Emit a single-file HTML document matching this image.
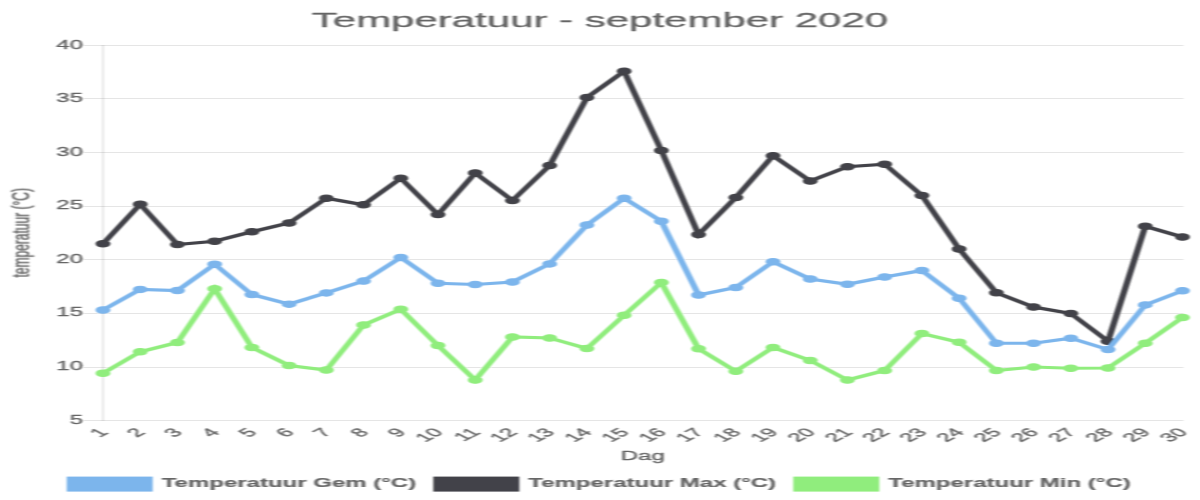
<!DOCTYPE html>
<html lang="nl"><head><meta charset="utf-8"><title>Temperatuur - september 2020</title>
<style>
html,body{margin:0;padding:0;background:#fff;}
body{width:1200px;height:500px;overflow:hidden;}
svg{display:block;font-family:"Liberation Sans",Arial,Helvetica,sans-serif;}
</style></head><body>
<svg width="1200" height="500" viewBox="0 0 600 500" preserveAspectRatio="none">
<rect x="0" y="0" width="600" height="500" fill="#fff"/>
<defs><filter id="soft" x="0" y="0" width="600" height="500" filterUnits="userSpaceOnUse"><feGaussianBlur stdDeviation="0.5 0.4"/></filter></defs>
<g id="chart" filter="url(#soft)" stroke-linejoin="round">
<g stroke="#000" stroke-opacity="0.1" stroke-width="1" fill="none">
<line x1="41.50" y1="45.50" x2="591.75" y2="45.50"/>
<line x1="41.50" y1="98.50" x2="591.75" y2="98.50"/>
<line x1="41.50" y1="152.50" x2="591.75" y2="152.50"/>
<line x1="41.50" y1="206.50" x2="591.75" y2="206.50"/>
<line x1="41.50" y1="259.50" x2="591.75" y2="259.50"/>
<line x1="41.50" y1="313.50" x2="591.75" y2="313.50"/>
<line x1="41.50" y1="367.50" x2="591.75" y2="367.50"/>
<line x1="41.50" y1="420.50" x2="591.75" y2="420.50"/>
<line x1="51.50" y1="45" x2="51.50" y2="421"/>
</g>
<text x="300" y="27.5" text-anchor="middle" font-size="21" fill="#666" stroke="#666" stroke-width="0.3">Temperatuur - september 2020</text>
<g font-size="12" fill="#666" stroke="#666" stroke-width="0.3" text-anchor="end">
<text x="41.5" y="48.70">40</text>
<text x="41.5" y="102.25">35</text>
<text x="41.5" y="155.80">30</text>
<text x="41.5" y="209.35">25</text>
<text x="41.5" y="262.90">20</text>
<text x="41.5" y="316.45">15</text>
<text x="41.5" y="370.00">10</text>
<text x="41.5" y="423.55">5</text>
</g>
<text font-size="12" fill="#666" stroke="#666" stroke-width="0.3" text-anchor="middle" transform="translate(10,232.70) rotate(-90)" y="4.3">temperatuur (°C)</text>
<g font-size="12" fill="#666" stroke="#666" stroke-width="0.3" text-anchor="end">
<text transform="translate(51.50,430) rotate(-45)" y="4.3">1</text>
<text transform="translate(70.11,430) rotate(-45)" y="4.3">2</text>
<text transform="translate(88.72,430) rotate(-45)" y="4.3">3</text>
<text transform="translate(107.34,430) rotate(-45)" y="4.3">4</text>
<text transform="translate(125.95,430) rotate(-45)" y="4.3">5</text>
<text transform="translate(144.56,430) rotate(-45)" y="4.3">6</text>
<text transform="translate(163.17,430) rotate(-45)" y="4.3">7</text>
<text transform="translate(181.78,430) rotate(-45)" y="4.3">8</text>
<text transform="translate(200.40,430) rotate(-45)" y="4.3">9</text>
<text transform="translate(219.01,430) rotate(-45)" y="4.3">10</text>
<text transform="translate(237.62,430) rotate(-45)" y="4.3">11</text>
<text transform="translate(256.23,430) rotate(-45)" y="4.3">12</text>
<text transform="translate(274.84,430) rotate(-45)" y="4.3">13</text>
<text transform="translate(293.46,430) rotate(-45)" y="4.3">14</text>
<text transform="translate(312.07,430) rotate(-45)" y="4.3">15</text>
<text transform="translate(330.68,430) rotate(-45)" y="4.3">16</text>
<text transform="translate(349.29,430) rotate(-45)" y="4.3">17</text>
<text transform="translate(367.91,430) rotate(-45)" y="4.3">18</text>
<text transform="translate(386.52,430) rotate(-45)" y="4.3">19</text>
<text transform="translate(405.13,430) rotate(-45)" y="4.3">20</text>
<text transform="translate(423.74,430) rotate(-45)" y="4.3">21</text>
<text transform="translate(442.35,430) rotate(-45)" y="4.3">22</text>
<text transform="translate(460.97,430) rotate(-45)" y="4.3">23</text>
<text transform="translate(479.58,430) rotate(-45)" y="4.3">24</text>
<text transform="translate(498.19,430) rotate(-45)" y="4.3">25</text>
<text transform="translate(516.80,430) rotate(-45)" y="4.3">26</text>
<text transform="translate(535.41,430) rotate(-45)" y="4.3">27</text>
<text transform="translate(554.03,430) rotate(-45)" y="4.3">28</text>
<text transform="translate(572.64,430) rotate(-45)" y="4.3">29</text>
<text transform="translate(591.25,430) rotate(-45)" y="4.3">30</text>
</g>
<text x="321.38" y="460.2" font-size="12" fill="#666" stroke="#666" stroke-width="0.3" text-anchor="middle">Dag</text>
<g fill="#90ed7d" stroke="#90ed7d"><polyline points="51.50,373.25 70.11,351.75 88.72,342.50 107.34,288.75 125.95,347.50 144.56,365.50 163.17,370.00 181.78,325.00 200.40,309.25 219.01,345.50 237.62,380.00 256.23,337.00 274.84,338.00 293.46,348.50 312.07,315.25 330.68,282.50 349.29,348.75 367.91,371.25 386.52,347.50 405.13,360.50 423.74,380.00 442.35,370.50 460.97,333.50 479.58,342.25 498.19,370.50 516.80,367.00 535.41,368.25 554.03,368.00 572.64,343.25 591.25,317.50" fill="none" stroke-width="3.2" stroke-linejoin="miter" stroke-linecap="butt"/><g stroke-width="1"><circle cx="51.50" cy="373.25" r="3.25"/><circle cx="70.11" cy="351.75" r="3.25"/><circle cx="88.72" cy="342.50" r="3.25"/><circle cx="107.34" cy="288.75" r="3.25"/><circle cx="125.95" cy="347.50" r="3.25"/><circle cx="144.56" cy="365.50" r="3.25"/><circle cx="163.17" cy="370.00" r="3.25"/><circle cx="181.78" cy="325.00" r="3.25"/><circle cx="200.40" cy="309.25" r="3.25"/><circle cx="219.01" cy="345.50" r="3.25"/><circle cx="237.62" cy="380.00" r="3.25"/><circle cx="256.23" cy="337.00" r="3.25"/><circle cx="274.84" cy="338.00" r="3.25"/><circle cx="293.46" cy="348.50" r="3.25"/><circle cx="312.07" cy="315.25" r="3.25"/><circle cx="330.68" cy="282.50" r="3.25"/><circle cx="349.29" cy="348.75" r="3.25"/><circle cx="367.91" cy="371.25" r="3.25"/><circle cx="386.52" cy="347.50" r="3.25"/><circle cx="405.13" cy="360.50" r="3.25"/><circle cx="423.74" cy="380.00" r="3.25"/><circle cx="442.35" cy="370.50" r="3.25"/><circle cx="460.97" cy="333.50" r="3.25"/><circle cx="479.58" cy="342.25" r="3.25"/><circle cx="498.19" cy="370.50" r="3.25"/><circle cx="516.80" cy="367.00" r="3.25"/><circle cx="535.41" cy="368.25" r="3.25"/><circle cx="554.03" cy="368.00" r="3.25"/><circle cx="572.64" cy="343.25" r="3.25"/><circle cx="591.25" cy="317.50" r="3.25"/></g></g>
<g fill="#434348" stroke="#434348"><polyline points="51.50,243.75 70.11,204.25 88.72,244.50 107.34,241.25 125.95,231.75 144.56,223.00 163.17,198.25 181.78,204.75 200.40,178.25 219.01,214.50 237.62,173.00 256.23,200.50 274.84,165.50 293.46,97.50 312.07,71.25 330.68,150.50 349.29,234.50 367.91,197.50 386.52,155.75 405.13,181.00 423.74,166.75 442.35,164.25 460.97,195.50 479.58,249.00 498.19,292.75 516.80,307.00 535.41,313.50 554.03,341.25 572.64,226.25 591.25,237.00" fill="none" stroke-width="3.2" stroke-linejoin="miter" stroke-linecap="butt"/><g stroke-width="1"><circle cx="51.50" cy="243.75" r="3.25"/><circle cx="70.11" cy="204.25" r="3.25"/><circle cx="88.72" cy="244.50" r="3.25"/><circle cx="107.34" cy="241.25" r="3.25"/><circle cx="125.95" cy="231.75" r="3.25"/><circle cx="144.56" cy="223.00" r="3.25"/><circle cx="163.17" cy="198.25" r="3.25"/><circle cx="181.78" cy="204.75" r="3.25"/><circle cx="200.40" cy="178.25" r="3.25"/><circle cx="219.01" cy="214.50" r="3.25"/><circle cx="237.62" cy="173.00" r="3.25"/><circle cx="256.23" cy="200.50" r="3.25"/><circle cx="274.84" cy="165.50" r="3.25"/><circle cx="293.46" cy="97.50" r="3.25"/><circle cx="312.07" cy="71.25" r="3.25"/><circle cx="330.68" cy="150.50" r="3.25"/><circle cx="349.29" cy="234.50" r="3.25"/><circle cx="367.91" cy="197.50" r="3.25"/><circle cx="386.52" cy="155.75" r="3.25"/><circle cx="405.13" cy="181.00" r="3.25"/><circle cx="423.74" cy="166.75" r="3.25"/><circle cx="442.35" cy="164.25" r="3.25"/><circle cx="460.97" cy="195.50" r="3.25"/><circle cx="479.58" cy="249.00" r="3.25"/><circle cx="498.19" cy="292.75" r="3.25"/><circle cx="516.80" cy="307.00" r="3.25"/><circle cx="535.41" cy="313.50" r="3.25"/><circle cx="554.03" cy="341.25" r="3.25"/><circle cx="572.64" cy="226.25" r="3.25"/><circle cx="591.25" cy="237.00" r="3.25"/></g></g>
<g fill="#7cb5ec" stroke="#7cb5ec"><polyline points="51.50,310.00 70.11,289.40 88.72,290.50 107.34,264.25 125.95,294.50 144.56,304.20 163.17,292.90 181.78,281.10 200.40,257.50 219.01,283.25 237.62,284.50 256.23,282.00 274.84,263.90 293.46,225.00 312.07,198.25 330.68,221.25 349.29,295.00 367.91,287.50 386.52,261.75 405.13,279.00 423.74,284.25 442.35,277.00 460.97,270.50 479.58,298.25 498.19,343.25 516.80,343.25 535.41,338.25 554.03,349.50 572.64,304.90 591.25,290.75" fill="none" stroke-width="3.2" stroke-linejoin="miter" stroke-linecap="butt"/><g stroke-width="1"><circle cx="51.50" cy="310.00" r="3.25"/><circle cx="70.11" cy="289.40" r="3.25"/><circle cx="88.72" cy="290.50" r="3.25"/><circle cx="107.34" cy="264.25" r="3.25"/><circle cx="125.95" cy="294.50" r="3.25"/><circle cx="144.56" cy="304.20" r="3.25"/><circle cx="163.17" cy="292.90" r="3.25"/><circle cx="181.78" cy="281.10" r="3.25"/><circle cx="200.40" cy="257.50" r="3.25"/><circle cx="219.01" cy="283.25" r="3.25"/><circle cx="237.62" cy="284.50" r="3.25"/><circle cx="256.23" cy="282.00" r="3.25"/><circle cx="274.84" cy="263.90" r="3.25"/><circle cx="293.46" cy="225.00" r="3.25"/><circle cx="312.07" cy="198.25" r="3.25"/><circle cx="330.68" cy="221.25" r="3.25"/><circle cx="349.29" cy="295.00" r="3.25"/><circle cx="367.91" cy="287.50" r="3.25"/><circle cx="386.52" cy="261.75" r="3.25"/><circle cx="405.13" cy="279.00" r="3.25"/><circle cx="423.74" cy="284.25" r="3.25"/><circle cx="442.35" cy="277.00" r="3.25"/><circle cx="460.97" cy="270.50" r="3.25"/><circle cx="479.58" cy="298.25" r="3.25"/><circle cx="498.19" cy="343.25" r="3.25"/><circle cx="516.80" cy="343.25" r="3.25"/><circle cx="535.41" cy="338.25" r="3.25"/><circle cx="554.03" cy="349.50" r="3.25"/><circle cx="572.64" cy="304.90" r="3.25"/><circle cx="591.25" cy="290.75" r="3.25"/></g></g>
<g font-size="12" font-weight="bold" fill="#666" stroke="#666" stroke-width="0.2">
<rect x="33.35" y="476.6" width="43" height="15" fill="#7cb5ec" stroke="none"/>
<text x="80.85" y="487.3">Temperatuur Gem (°C)</text>
<rect x="216.65" y="476.6" width="43" height="15" fill="#434348" stroke="none"/>
<text x="264.15" y="487.3">Temperatuur Max (°C)</text>
<rect x="396.65" y="476.6" width="43" height="15" fill="#90ed7d" stroke="none"/>
<text x="444.15" y="487.3">Temperatuur Min (°C)</text>
</g>
</g></svg></body></html>
